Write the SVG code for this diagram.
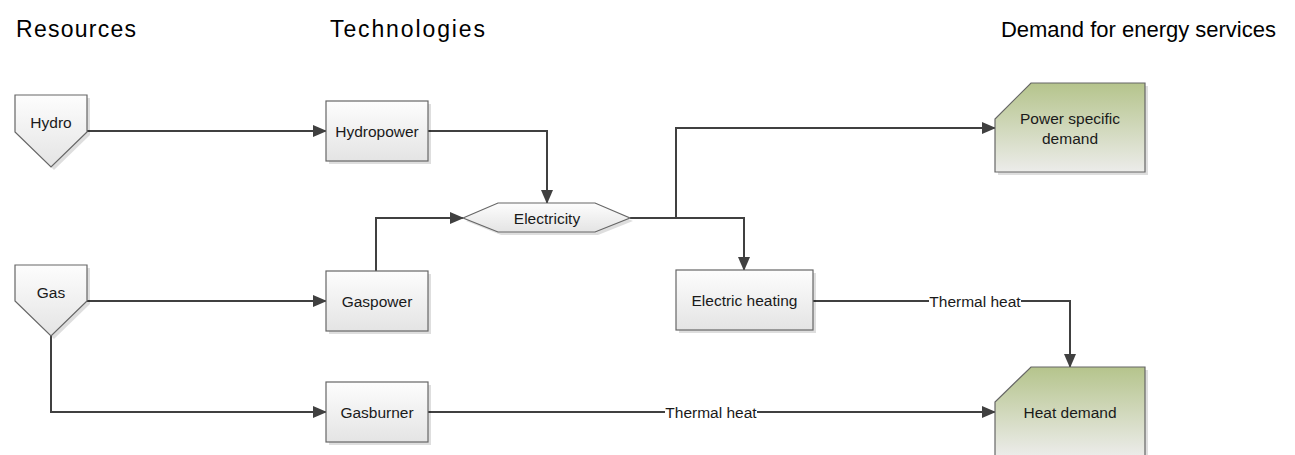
<svg xmlns="http://www.w3.org/2000/svg" width="1295" height="455" viewBox="0 0 1295 455">
<style>
.title{font-family:"Liberation Sans",Arial,sans-serif;font-size:23px;fill:#000}
.lbl{font-family:"Liberation Sans",Arial,sans-serif;font-size:15.5px;fill:#1a1a1a;text-anchor:middle;dominant-baseline:central}
.box{fill:url(#gGray);stroke:#666;stroke-width:1.2}
.dem{fill:url(#gGreen);stroke:#666;stroke-width:1.2}
.sh{fill:#000;opacity:0.13}
.con{fill:none;stroke:#404040;stroke-width:2}
.arr{marker-end:url(#ah)}
.bg{fill:#fff}
</style>
<defs>
<linearGradient id="gGray" x1="0" y1="0" x2="0" y2="1">
<stop offset="0" stop-color="#fdfdfd"/>
<stop offset="1" stop-color="#e4e4e4"/>
</linearGradient>
<linearGradient id="gGreen" x1="0" y1="0" x2="0" y2="1">
<stop offset="0" stop-color="#b5c48c"/>
<stop offset="1" stop-color="#ececea"/>
</linearGradient>
<marker id="ah" markerUnits="userSpaceOnUse" markerWidth="14" markerHeight="12" refX="13" refY="6" orient="auto">
<path d="M0,0 L14,6 L0,12 z" fill="#404040"/>
</marker>
</defs>

<g id="titles">
<text class="title" x="16" y="37" textLength="120">Resources</text>
<text class="title" x="330" y="37" textLength="155">Technologies</text>
<text class="title" x="1276" y="37" text-anchor="end" style="font-size:22px">Demand for energy services</text>
</g>

<g id="connectors">
<path class="con arr" d="M87,131 H326"/>
<path class="con arr" d="M87,301 H326"/>
<path class="con arr" d="M51,336 V412 H326"/>
<path class="con arr" d="M428,131 H547 V203"/>
<path class="con arr" d="M376,271 V218 H463"/>
<path class="con arr" d="M630,218 H744 V270"/>
<path class="con arr" d="M676,218 V128 H995"/>
<path class="con arr" d="M813,301 H1070 V367"/>
<path class="con arr" d="M428,412 H995"/>
<rect class="bg" x="929" y="292" width="92" height="18"/>
<text class="lbl" x="975" y="301">Thermal heat</text>
<rect class="bg" x="665" y="403" width="92" height="18"/>
<text class="lbl" x="711" y="412">Thermal heat</text>
</g>

<g id="hydro">
<path class="sh" d="M18,98 H90 V135 L54,170 L18,135 Z"/>
<path class="box" d="M15,95 H87 V132 L51,167 L15,132 Z"/>
<text class="lbl" x="51" y="122">Hydro</text>
</g>

<g id="gas">
<path class="sh" d="M18,268 H90 V304 L54,339 L18,304 Z"/>
<path class="box" d="M15,265 H87 V301 L51,336 L15,301 Z"/>
<text class="lbl" x="51" y="292">Gas</text>
</g>

<g id="hydropower">
<rect class="sh" x="329" y="104" width="102" height="60"/>
<rect class="box" x="326" y="101" width="102" height="60"/>
<text class="lbl" x="377" y="131">Hydropower</text>
</g>

<g id="gaspower">
<rect class="sh" x="329" y="274" width="102" height="60"/>
<rect class="box" x="326" y="271" width="102" height="60"/>
<text class="lbl" x="377" y="301">Gaspower</text>
</g>

<g id="gasburner">
<rect class="sh" x="329" y="385" width="102" height="60"/>
<rect class="box" x="326" y="382" width="102" height="60"/>
<text class="lbl" x="377" y="412">Gasburner</text>
</g>

<g id="electricity">
<path class="sh" d="M466,221 L501,206 H598 L633,221 L598,235 H501 Z"/>
<path class="box" d="M463,218 L498,203 H595 L630,218 L595,232 H498 Z"/>
<text class="lbl" x="547" y="218">Electricity</text>
</g>

<g id="electric-heating">
<rect class="sh" x="679" y="273" width="137" height="60"/>
<rect class="box" x="676" y="270" width="137" height="60"/>
<text class="lbl" x="744.500" y="300">Electric heating</text>
</g>

<g id="power-demand">
<path class="sh" d="M1034,86 H1148 V175 H998 V122 Z"/>
<path class="dem" d="M1031,83 H1145 V172 H995 V119 Z"/>
<text class="lbl" x="1070" y="118">Power specific</text>
<text class="lbl" x="1070" y="138">demand</text>
</g>

<g id="heat-demand">
<path class="sh" d="M1034,370 H1148 V459 H998 V405 Z"/>
<path class="dem" d="M1031,367 H1145 V456 H995 V402 Z"/>
<text class="lbl" x="1070" y="412">Heat demand</text>
</g>
</svg>
